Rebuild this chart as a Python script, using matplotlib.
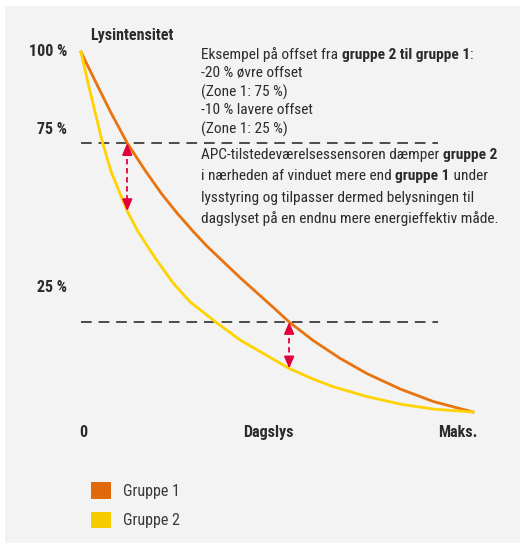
import matplotlib
matplotlib.use("Agg")
import matplotlib.pyplot as plt
from matplotlib import font_manager as fm
from matplotlib.patches import Rectangle, Patch

# curve samples (x: 0 = none, 1 = maks.)
g1_x = [0.0, 0.035, 0.077, 0.118, 0.163, 0.205, 0.247, 0.290, 0.321, 0.406, 0.491,
        0.531, 0.593, 0.661, 0.729, 0.814, 0.899, 1.0]
g1_y = [1.0, 0.922, 0.830, 0.747, 0.672, 0.607, 0.550, 0.497, 0.461, 0.373, 0.290,
        0.250, 0.198, 0.149, 0.107, 0.064, 0.029, 0.0]
g2_x = [0.0, 0.018, 0.035, 0.054, 0.077, 0.118, 0.145, 0.171, 0.193, 0.235, 0.278,
        0.346, 0.406, 0.531, 0.593, 0.644, 0.729, 0.814, 0.899, 1.0]
g2_y = [1.0, 0.914, 0.837, 0.752, 0.667, 0.558, 0.502, 0.458, 0.422, 0.358, 0.306,
        0.248, 0.200, 0.121, 0.091, 0.070, 0.043, 0.022, 0.008, 0.0]

# offset markers: x position, group-1 level, group-2 level
offset_x = [0.118, 0.531]
offset_top = [0.747, 0.250]
offset_bot = [0.558, 0.121]
dash_end = 0.911

y_labels = ["100 %", "75 %", "25 %"]
y_label_pos = [1.0, 0.786, 0.347]
x_labels = ["0", "Dagslys", "Maks."]
x_label_pos = [0.005, 0.478, 0.96]

legend_labels = ["Gruppe 1", "Gruppe 2"]

ORANGE = "#e8730f"
YELLOW = "#ffd200"
RED = "#e4003a"
INK = "#1e1e1e"
TEXT = "#2b2b2b"


def pick_narrow_font():
    fonts = fm.fontManager.ttflist
    names = {f.name for f in fonts}
    for cand in ["Liberation Sans Narrow", "DejaVu Sans Condensed", "Roboto Condensed",
                 "Noto Sans Condensed", "Open Sans Condensed", "Noto Sans SemiCondensed",
                 "Open Sans SemiCondensed"]:
        if cand in names:
            return cand, "normal"
    for f in fonts:
        if f.stretch in ("condensed", "extra-condensed", "semi-condensed", 75, 62.5, 87.5):
            return f.name, f.stretch
    return "DejaVu Sans", "normal"


NARROW, STRETCH = pick_narrow_font()
SCALE = 1.0 if NARROW != "DejaVu Sans" else 0.8
plt.rcParams["font.family"] = [NARROW, "DejaVu Sans"]
plt.rcParams["font.stretch"] = STRETCH
FS = 11.1 * SCALE

W, H = 520, 544
fig = plt.figure(figsize=(W / 100, H / 100), dpi=100, facecolor="white")
fig.patches.append(Rectangle((5 / W, 1 / H), 515 / W, 537 / H, transform=fig.transFigure,
                             facecolor="#f2f3f2", edgecolor="none", zorder=-10))

# axes box: data (0,0) at px (81,412), (1,1) at px (473,52)
ax = fig.add_axes([81 / W, (H - 412) / H, 392 / W, 360 / H])
ax.set_xlim(0, 1)
ax.set_ylim(0, 1)
ax.axis("off")

ax.plot(g1_x, g1_y, color=ORANGE, lw=2, clip_on=False, zorder=3, solid_joinstyle="round")
ax.plot(g2_x, g2_y, color=YELLOW, lw=2, clip_on=False, zorder=3, solid_joinstyle="round")

for y in offset_top:
    ax.plot([0, dash_end], [y, y], color=INK, lw=1.1, ls=(0, (7, 4.5)), zorder=2)

for x, top, bot in zip(offset_x, offset_top, offset_bot):
    ax.plot([x, x], [top - 0.02, bot + 0.02], color=RED, lw=1.3, ls=(0, (3, 2)), zorder=4)
    style = "-|>,head_length=0.7,head_width=0.3"
    ax.annotate("", xy=(x, top), xytext=(x, top - 0.03),
                arrowprops=dict(arrowstyle=style, color=RED, lw=1.3, shrinkA=0, shrinkB=0), zorder=5)
    ax.annotate("", xy=(x, bot), xytext=(x, bot + 0.03),
                arrowprops=dict(arrowstyle=style, color=RED, lw=1.3, shrinkA=0, shrinkB=0), zorder=5)

# axis arrows
axis_style = "-|>,head_length=0.8,head_width=0.35"
ax.annotate("", xy=(1.077, 0), xytext=(0, 0),
            arrowprops=dict(arrowstyle=axis_style, color=INK, lw=2.4, shrinkA=0, shrinkB=0), zorder=6)
ax.annotate("", xy=(0, 1.064), xytext=(0, 0),
            arrowprops=dict(arrowstyle=axis_style, color=INK, lw=2.4, shrinkA=0, shrinkB=0), zorder=6)

for lab, y in zip(y_labels, y_label_pos):
    ax.text(-0.036, y, lab, ha="right", va="center", fontsize=11.5 * SCALE,
            fontweight="bold", color=TEXT)
for lab, x in zip(x_labels, x_label_pos):
    ax.text(x, -0.056, lab, ha="center", va="center", fontsize=11.5 * SCALE,
            fontweight="bold", color=TEXT)
ax.text(0.023, 1.047, "Lysintensitet", ha="left", va="center", fontsize=11.5 * SCALE,
        fontweight="bold", color=TEXT)

# annotation text with bold runs
renderer = fig.canvas.get_renderer()


def rich_line(x0, y0, parts, size=FS):
    x = x0
    for txt, bold in parts:
        t = fig.text(x / W, 1 - y0 / H, txt, ha="left", va="center", fontsize=size,
                     fontweight="bold" if bold else "normal", color=TEXT)
        x += t.get_window_extent(renderer).width


block1 = [
    [("Eksempel på offset fra ", False), ("gruppe 2 til gruppe 1", True), (":", False)],
    [("-20 % øvre offset", False)],
    [("(Zone 1: 75 %)", False)],
    [("-10 % lavere offset", False)],
    [("(Zone 1: 25 %)", False)],
]
for i, parts in enumerate(block1):
    rich_line(201, 55 + i * 18.5, parts)

block2 = [
    [("APC-tilstedeværelsessensoren dæmper ", False), ("gruppe 2", True)],
    [("i nærheden af vinduet mere end ", False), ("gruppe 1", True), (" under", False)],
    [("lysstyring og tilpasser dermed belysningen til", False)],
    [("dagslyset på en endnu mere energieffektiv måde.", False)],
]
for i, parts in enumerate(block2):
    rich_line(201, 155 + i * 21.3, parts)

handles = [Patch(facecolor="#e06a0a", edgecolor="none"), Patch(facecolor="#f5cc00", edgecolor="none")]
fig.legend(handles, legend_labels, loc="upper left", bbox_to_anchor=(77 / W, 1 - 468 / H),
           frameon=False, fontsize=11.5 * SCALE, handlelength=1.2, handleheight=1.2,
           handletextpad=0.8, labelspacing=0.8, labelcolor="#3a3a3a")

fig.savefig("out.png", dpi=100, facecolor=fig.get_facecolor())
